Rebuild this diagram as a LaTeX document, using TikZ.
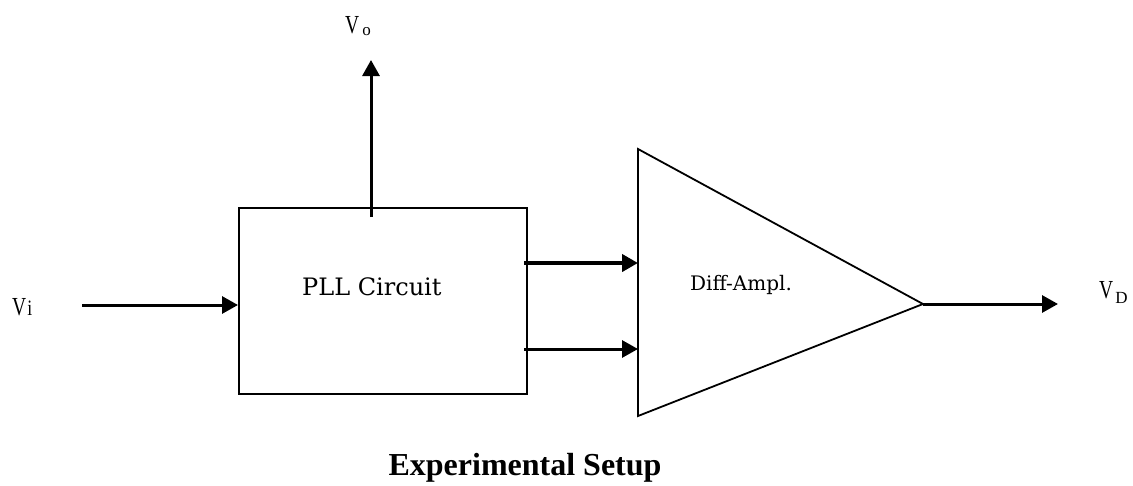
\documentclass[tikz,border=0pt]{standalone}
\usepackage{fontspec}
\setmainfont{Liberation Serif}
\newfontfamily\wideserif{DejaVu Serif}
\usetikzlibrary{arrows.meta}
\begin{document}
\begin{tikzpicture}[x=1pt,y=-1pt,
  conn/.style={line width=3pt,-{Triangle[length=16pt,width=17pt]}},
  lbl/.style={inner sep=0pt,anchor=base west},
  bigV/.style={font=\fontsize{26}{26}\selectfont}]
\useasboundingbox (0,0) rectangle (1133,485);
\fill[white] (0,0) rectangle (1133,485);
% PLL box
\node[draw,line width=2pt,minimum width=288pt,minimum height=186pt,inner sep=0pt,anchor=north west] (pll) at (238,207) {};
\node[font=\wideserif\fontsize{24}{24}\selectfont,inner sep=0pt,anchor=base west] (pllt) at (302,295) {PLL Circuit};
% amplifier triangle
\coordinate (ta) at (638,149);
\coordinate (tb) at (638,416);
\coordinate (tip) at (923,304);
\draw[line width=1.8pt,line join=miter] (ta) -- (tb) -- (tip) -- cycle;
\node[font=\wideserif\fontsize{20}{20}\selectfont,inner sep=0pt,anchor=base west] (ampt) at (690,290) {Diff-Ampl.};
% labels
\node[lbl] (vi) at (12,315) {\fontsize{26}{26}\selectfont\scalebox{0.75}[1]{V}\hspace{1pt}\fontsize{22}{22}\selectfont\scalebox{0.8}[1]{i}};
\node[lbl] (vo) at (345,33) {\fontsize{26}{26}\selectfont\scalebox{0.75}[1]{V}\hspace{3pt}\raisebox{-2pt}{\fontsize{17}{17}\selectfont o}};
\node[lbl] (vd) at (1099,298) {\fontsize{26}{26}\selectfont\scalebox{0.75}[1]{V}\hspace{2pt}\raisebox{-5pt}{\fontsize{17}{17}\selectfont D}};
\node[font=\bfseries\fontsize{32}{32}\selectfont,inner sep=0pt,anchor=base] (title) at (525,475) {Experimental Setup};
% connectors
\coordinate (vistart) at (82,305);
\draw[conn] (vistart) -- (pll.west |- vistart);
\coordinate (vobot) at (371,217);
\coordinate (votop) at (371,60);
\draw[conn] (vobot) -- (votop);
\coordinate (o1) at (524,263);
\coordinate (o2) at (524,349);
\draw[conn,line width=4.5pt] (o1) -- (ta |- o1);
\draw[conn] (o2) -- (ta |- o2);
\coordinate (vdend) at (1058,304);
\draw[conn] (tip) -- (vdend);
\end{tikzpicture}
\end{document}
